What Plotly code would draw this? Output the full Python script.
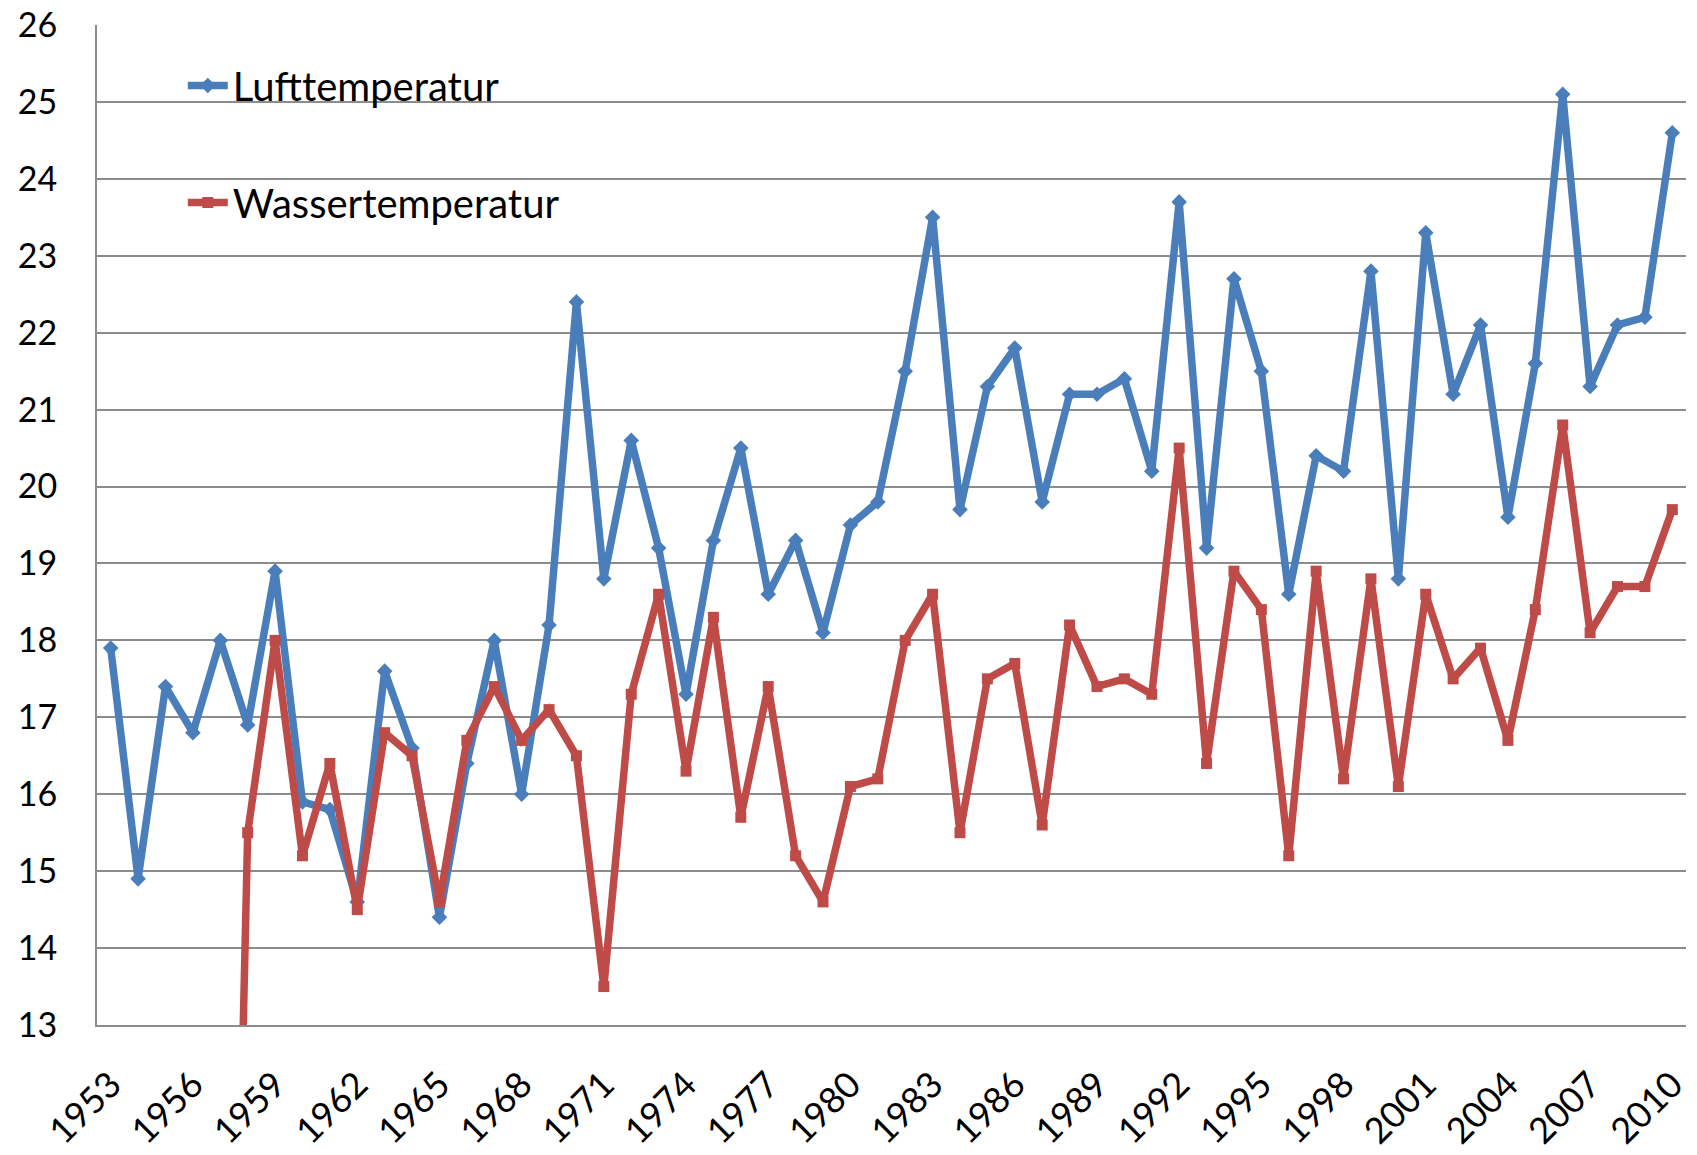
import plotly.graph_objects as go

years = list(range(1953, 2011))

luft = [17.9, 14.9, 17.4, 16.8, 18.0, 16.9, 18.9, 15.9, 15.8, 14.6,
        17.6, 16.6, 14.4, 16.4, 18.0, 16.0, 18.2, 22.4, 18.8, 20.6,
        19.2, 17.3, 19.3, 20.5, 18.6, 19.3, 18.1, 19.5, 19.8, 21.5,
        23.5, 19.7, 21.3, 21.8, 19.8, 21.2, 21.2, 21.4, 20.2, 23.7,
        19.2, 22.7, 21.5, 18.6, 20.4, 20.2, 22.8, 18.8, 23.3, 21.2,
        22.1, 19.6, 21.6, 25.1, 21.3, 22.1, 22.2, 24.6]

wasser = [0, 0, 0, 0, 0, 15.5, 18.0, 15.2, 16.4, 14.5,
          16.8, 16.5, 14.6, 16.7, 17.4, 16.7, 17.1, 16.5, 13.5, 17.3,
          18.6, 16.3, 18.3, 15.7, 17.4, 15.2, 14.6, 16.1, 16.2, 18.0,
          18.6, 15.5, 17.5, 17.7, 15.6, 18.2, 17.4, 17.5, 17.3, 20.5,
          16.4, 18.9, 18.4, 15.2, 18.9, 16.2, 18.8, 16.1, 18.6, 17.5,
          17.9, 16.7, 18.4, 20.8, 18.1, 18.7, 18.7, 19.7]

x_ticks = list(range(1953, 2011, 3))
y_ticks = list(range(13, 27))

BLUE = "#4A7EBB"
RED = "#BE4B48"
GRID = "#8C8C8C"
FONT = "Lato, 'Open Sans', 'Noto Sans', sans-serif"

fig = go.Figure()
fig.add_trace(go.Scatter(
    x=years, y=luft, name="Lufttemperatur", mode="lines+markers",
    line=dict(color=BLUE, width=7.5),
    marker=dict(symbol="diamond", size=12, color=BLUE),
    legendgroup="a",
))
fig.add_trace(go.Scatter(
    x=years, y=wasser, name="Wassertemperatur", mode="lines+markers",
    line=dict(color=RED, width=7.5),
    marker=dict(symbol="square", size=11, color=RED),
    legendgroup="b",
))

fig.update_layout(
    width=1689, height=1147,
    paper_bgcolor="white", plot_bgcolor="white",
    margin=dict(l=89, r=11, t=17, b=130, autoexpand=False),
    font=dict(family=FONT, size=36, color="black"),
    showlegend=True,
    legend=dict(
        x=0.054, y=0.972, xanchor="left", yanchor="top",
        bgcolor="rgba(0,0,0,0)", font=dict(size=40, family=FONT),
        tracegroupgap=62, traceorder="grouped", itemwidth=40,
    ),
)
fig.update_xaxes(
    range=[1952.5, 2010.5], tickmode="array", tickvals=x_ticks,
    ticktext=[str(v) for v in x_ticks], tickangle=-45,
    showgrid=False, showline=True, linecolor=GRID, linewidth=2,
    ticks="", ticklabelstandoff=22, tickfont=dict(size=36),
    automargin=False, ticklabeloverflow="allow",
)
fig.update_yaxes(
    range=[13, 26], tickmode="array", tickvals=y_ticks,
    showgrid=True, gridcolor=GRID, gridwidth=2,
    showline=True, linecolor=GRID, linewidth=2, zeroline=False,
    ticks="", ticklabelstandoff=31, tickfont=dict(size=34),
    automargin=False, ticklabeloverflow="allow",
)

fig.write_html("out.html")
